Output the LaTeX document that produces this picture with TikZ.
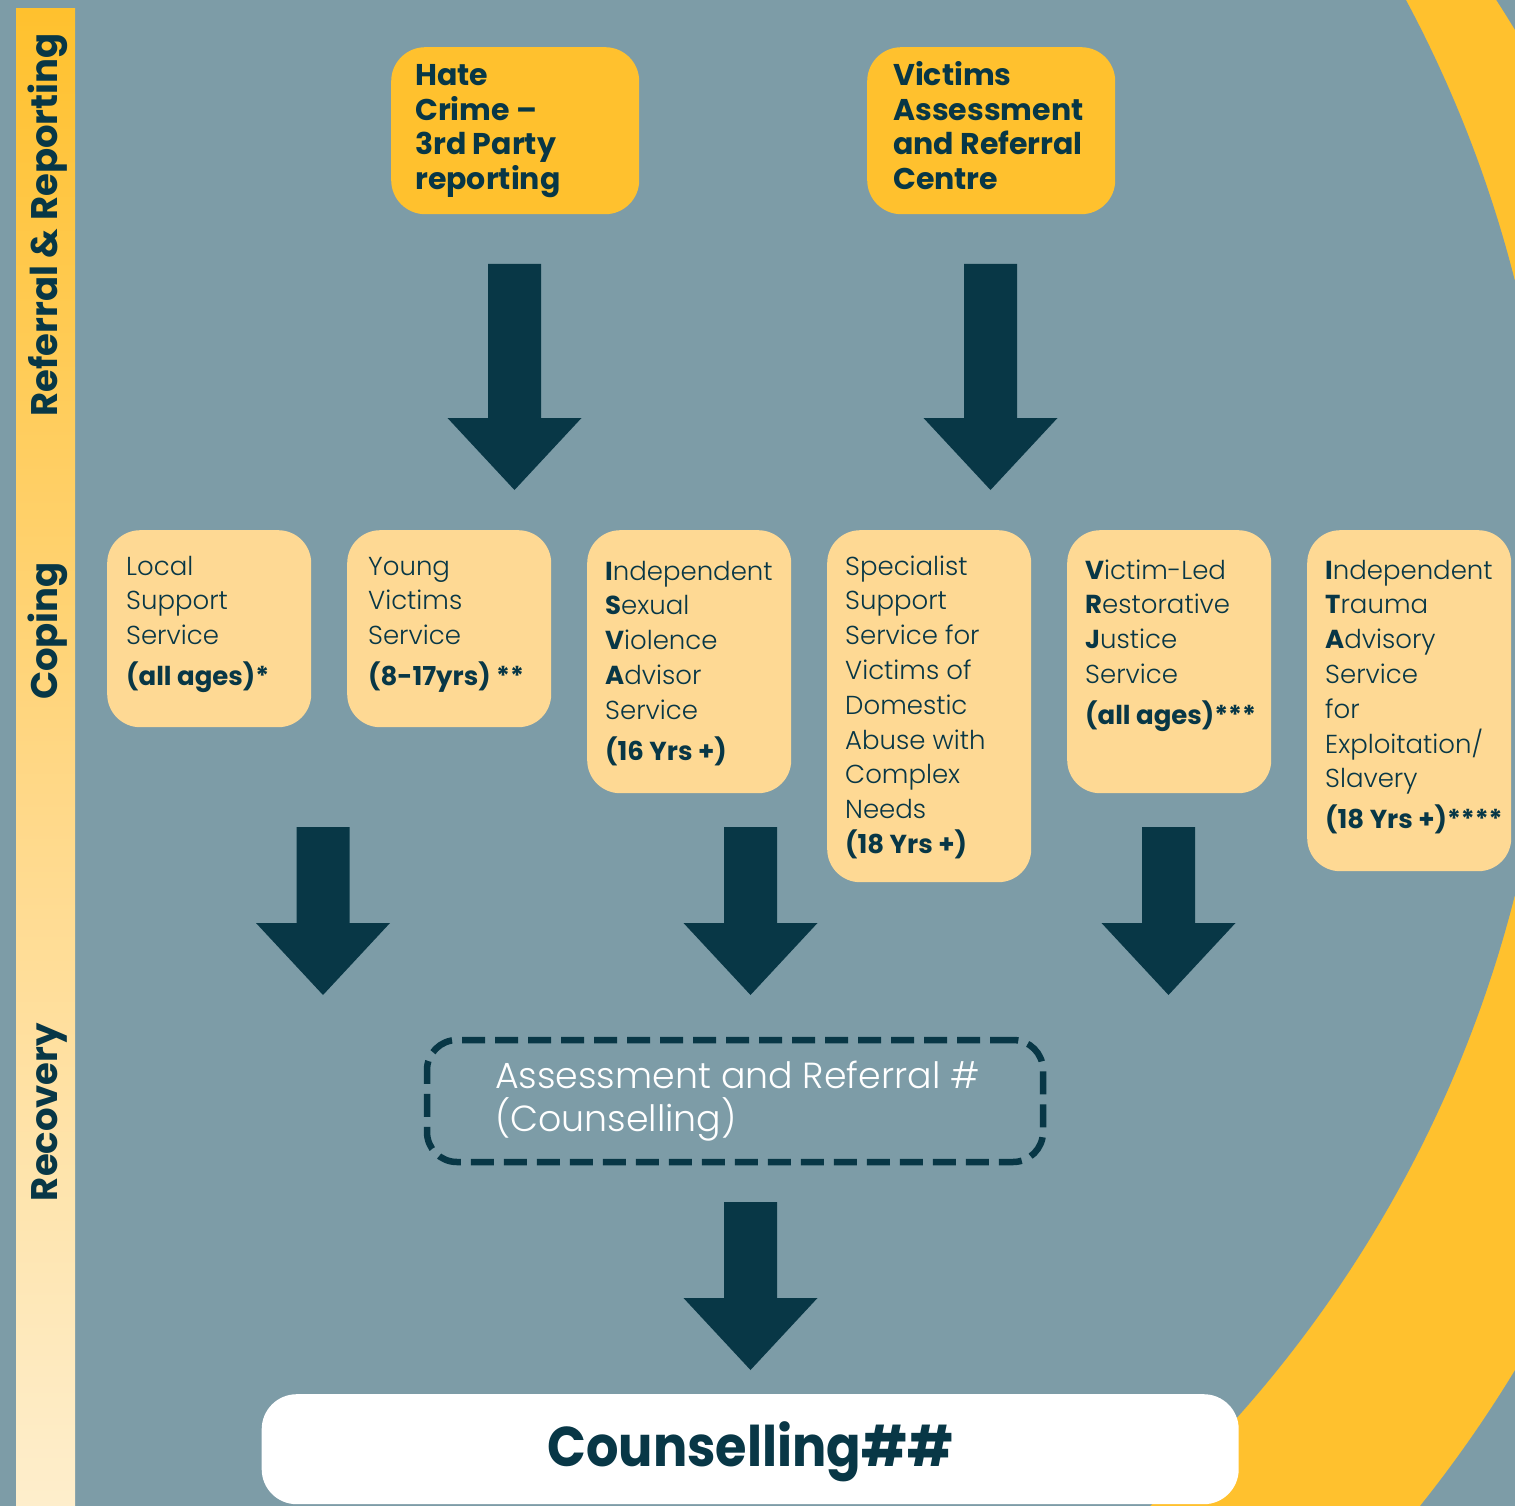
\documentclass[tikz,border=0pt]{standalone}
\usepackage{fontspec}
\setmainfont{Poppins}
\newfontfamily\lightfont{Poppins Light}[BoldFont=Poppins Bold]
\definecolor{bgc}{HTML}{7D9CA7}
\definecolor{navy}{HTML}{083746}
\definecolor{yel}{HTML}{FFC12E}
\definecolor{pale}{HTML}{FED994}
\definecolor{cream}{HTML}{FEEECC}
\definecolor{midbar}{HTML}{FFD784}
\newcommand\lines[1]{\parbox[t]{700pt}{\raggedright #1}}
\newcommand\barrow[4]{%
  \fill[navy] (#1-26.5,#2) -- (#1+26.5,#2) -- (#1+26.5,#3) -- (#1+67,#3) -- (#1,#4) -- (#1-67,#3) -- (#1-26.5,#3) -- cycle;}
\begin{document}
\begin{tikzpicture}[x=1pt,y=-1pt,
  titlebox/.style={fill=yel, rounded corners=34pt, minimum width=248pt, minimum height=167pt, anchor=north west, inner sep=0pt},
  palebox/.style={fill=pale, rounded corners=33pt, minimum width=204pt, anchor=north west, inner sep=0pt},
  titletext/.style={anchor=base west, inner sep=0pt, text=navy, font=\bfseries\fontsize{30}{34.5}\selectfont},
  bodytext/.style={anchor=base west, inner sep=0pt, text=navy, font=\lightfont\fontsize{26}{34.8}\selectfont},
  sidelabel/.style={rotate=90, anchor=base, inner sep=0pt, text=navy, font=\bfseries\fontsize{37}{40}\selectfont}]
\useasboundingbox (0,0) rectangle (1515,1506);
\fill[bgc] (0,0) rectangle (1515,1506);
\begin{scope}
  \clip (0,0) rectangle (1515,1506);
  \fill[yel] (410,700) circle[radius=1292pt];
  \fill[bgc] (306,588) circle[radius=1247pt];
\end{scope}
% left bar
\shade[top color=yel, bottom color=cream, middle color=midbar] (16,9) rectangle (75,1506);
\node[sidelabel] (l1) at (57,225) {Referral \& Reporting};
\node[sidelabel] (l2) at (57,631) {Coping};
\node[sidelabel] (l3) at (57,1112) {Recovery};
% title boxes
\node[titlebox] (hc) at (391,47) {};
\node[titlebox] (va) at (867,47) {};
\node[titletext] (hct) at (415,86) {\lines{Hate\\Crime –\\3rd Party\\reporting}};
\node[titletext] (vat) at (893,86) {\lines{Victims\\Assessment\\and Referral\\Centre}};
% arrows top
\barrow{514.5}{264}{418}{490}
\barrow{990.5}{264}{418}{490}
% pale boxes
\node[palebox, minimum height=197pt] (b1) at (107,530) {};
\node[palebox, minimum height=197pt] (b2) at (347,530) {};
\node[palebox, minimum height=263pt] (b3) at (587,530) {};
\node[palebox, minimum height=352pt] (b4) at (827,530) {};
\node[palebox, minimum height=263pt] (b5) at (1067,530) {};
\node[palebox, minimum height=341pt] (b6) at (1307,530) {};
\node[bodytext] (b1t) at (126,575) {\lines{Local\\Support\\Service\\[6pt]\textbf{(all ages)*}}};
\node[bodytext] (b2t) at (368,575) {\lines{Young\\Victims\\Service\\[6pt]\textbf{(8-17yrs) **}}};
\node[bodytext] (b3t) at (605,580) {\lines{\textbf{I}ndependent\\\textbf{S}exual\\\textbf{V}iolence\\\textbf{A}dvisor\\Service\\[6pt]\textbf{(16 Yrs +)}}};
\node[bodytext] (b4t) at (845,575) {\lines{Specialist\\Support\\Service for\\Victims of\\Domestic\\Abuse with\\Complex\\Needs\\\textbf{(18 Yrs +)}}};
\node[bodytext] (b5t) at (1085,579) {\lines{\textbf{V}ictim-Led\\\textbf{R}estorative\\\textbf{J}ustice\\Service\\[6pt]\textbf{(all ages)***}}};
\node[bodytext] (b6t) at (1325,579) {\lines{\textbf{I}ndependent\\\textbf{T}rauma\\\textbf{A}dvisory\\Service\\for\\Exploitation/\\Slavery\\[6pt]\textbf{(18 Yrs +)****}}};
% lower arrows
\barrow{323}{827}{923}{995}
\barrow{750.5}{827}{923}{995}
\barrow{1168.5}{827}{923}{995}
% assessment box
\node[draw=navy, line width=6.5pt, dash pattern=on 23pt off 10pt, rounded corners=30pt, minimum width=616pt, minimum height=122pt, inner sep=0pt] (ar) at (735,1101) {};
\node[anchor=base west, inner sep=0pt, text=white, font=\lightfont\fontsize{36.3}{43}\selectfont] (art) at (495,1088) {\lines{Assessment and Referral \#\\(Counselling)}};
\barrow{750.5}{1202}{1298}{1370}
% counselling
\node[fill=white, rounded corners=35pt, minimum width=977pt, minimum height=110pt, anchor=north west, inner sep=0pt] (cb) at (261.5,1394) {};
\node[anchor=base, inner sep=0pt, text=navy, font=\bfseries\fontsize{56}{60}\selectfont] (ct) at (750.5,1466) {\scalebox{0.91}[1]{Counselling\#\#}};
\end{tikzpicture}
\end{document}
